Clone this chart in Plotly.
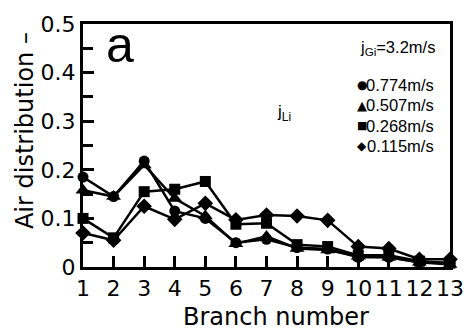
import plotly.graph_objects as go

branches = list(range(1, 14))
s0774 = [0.185, 0.145, 0.218, 0.115, 0.100, 0.050, 0.057, 0.040, 0.037, 0.020, 0.020, 0.010, 0.008]
s0507 = [0.158, 0.145, 0.210, 0.141, 0.105, 0.048, 0.063, 0.038, 0.035, 0.022, 0.020, 0.010, 0.005]
s0268 = [0.100, 0.060, 0.155, 0.160, 0.176, 0.088, 0.090, 0.046, 0.042, 0.024, 0.024, 0.012, 0.008]
s0115 = [0.070, 0.055, 0.125, 0.098, 0.131, 0.097, 0.107, 0.105, 0.096, 0.042, 0.038, 0.016, 0.016]
labels = ["0.774m/s", "0.507m/s", "0.268m/s", "0.115m/s"]
symbols = ["circle", "triangle-up", "square", "diamond"]
glyphs = ["●", "▲", "■", "◆"]
glyph_sizes = [12, 13, 11, 12]
series = [s0774, s0507, s0268, s0115]
sizes = [11, 13, 11, 12]
yticks = [0, 0.1, 0.2, 0.3, 0.4, 0.5]
ytick_text = ["0", "0.1", "0.2", "0.3", "0.4", "0.5"]

WIDE = "DejaVu Sans, sans-serif"
NARROW = "Liberation Sans, Arial, sans-serif"

fig = go.Figure()
for ys, sym, sz in zip(series, symbols, sizes):
    fig.add_trace(go.Scatter(x=branches, y=ys, mode="lines+markers",
                             line=dict(color="black", width=2.5),
                             marker=dict(symbol=sym, size=sz, color="black"),
                             showlegend=False, cliponaxis=False))

fig.update_layout(
    width=476, height=333,
    margin=dict(l=83, r=18, t=19, b=66),
    paper_bgcolor="white", plot_bgcolor="white",
    font=dict(family=WIDE, size=22, color="black"),
    xaxis=dict(range=[1, 13], tickmode="array", tickvals=branches,
               ticktext=[str(b) for b in branches],
               ticks="inside", ticklen=11, tickwidth=2.5, tickcolor="black",
               showline=True, linewidth=3, linecolor="black", mirror=True,
               showgrid=False, zeroline=False,
               tickfont=dict(family=WIDE, size=22)),
    yaxis=dict(range=[0, 0.5], tickmode="array",
               tickvals=yticks, ticktext=ytick_text,
               ticks="inside", ticklen=11, tickwidth=2.5, tickcolor="black",
               minor=dict(tickvals=[0.05, 0.15, 0.25, 0.35, 0.45], ticks="inside",
                          ticklen=10, tickwidth=2.5, tickcolor="black"),
               showline=True, linewidth=3, linecolor="black", mirror=True,
               showgrid=False, zeroline=False,
               tickfont=dict(family=WIDE, size=22)),
)


def px2paper(px, py):
    return (px - 83) / 375.0, (267 - py) / 248.0


a = []
x, y = px2paper(280, 318)
a.append(dict(text="Branch number", x=x, y=y, font=dict(family=WIDE, size=24)))
x, y = px2paper(24, 128)
a.append(dict(text="Air distribution –", x=x, y=y, textangle=-90,
              font=dict(family=WIDE, size=24)))
x, y = px2paper(121, 40)
a.append(dict(text="a", x=x, y=y, font=dict(family=NARROW, size=50)))
x, y = px2paper(445, 44)
a.append(dict(text="j<sub>Gi</sub>=3.2m/s", x=x, y=y, xanchor="right",
              font=dict(family=NARROW, size=16.5)))
for i, (g, gs, lab) in enumerate(zip(glyphs, glyph_sizes, labels)):
    py = 81 + i * 21
    x, y = px2paper(444, py)
    a.append(dict(text=lab, x=x, y=y, xanchor="right", font=dict(family=NARROW, size=16.5)))
    x, y = px2paper(368, py)
    a.append(dict(text=g, x=x, y=y, font=dict(family=WIDE, size=gs)))
x, y = px2paper(288, 110)
a.append(dict(text="j<sub>Li</sub>", x=x, y=y, font=dict(family=NARROW, size=17)))
for d in a:
    d.update(xref="paper", yref="paper", showarrow=False, yanchor="middle")
    d.setdefault("xanchor", "center")
fig.update_layout(annotations=a)
fig.write_html("out.html", config={"displayModeBar": False},
               post_script="document.body.style.margin='0';document.body.style.overflow='hidden';")
